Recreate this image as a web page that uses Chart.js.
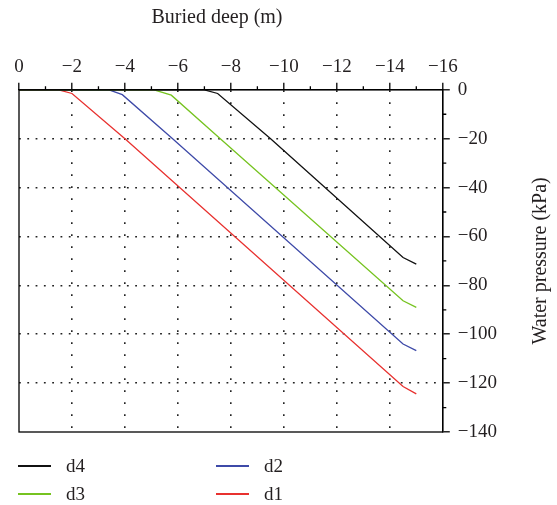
<!DOCTYPE html>
<html>
<head>
<meta charset="utf-8">
<script src="https://cdn.jsdelivr.net/npm/chart.js@4.4.1/dist/chart.umd.min.js"></script>
<style>
  body { margin: 0; background: #fff; }
  #wrap { position: relative; width: 557px; height: 505px; }
  #legend {
    position: absolute; left: 18px; top: 452px;
    display: grid; grid-template-columns: 198px 120px;
    font: 19px "Liberation Serif", serif; color: #231f20;
  }
  .item { display: flex; align-items: center; height: 28px; }
  .swatch { width: 33px; height: 0; border-top: 2px solid; margin-right: 15px; }
</style>
</head>
<body>
<div id="wrap">
  <canvas id="myChart" width="557" height="505"></canvas>
  <div id="legend"></div>
</div>
<script>
const ctx = document.getElementById('myChart').getContext('2d');

// buried depth (m, negative) and water pressure (kPa)
const depthD4 = [0, -7.0, -7.5, -9.5, -14.5, -15];
const pressD4 = [0, 0, -1.5, -20, -68.6, -71.3];
const depthD3 = [0, -5.1, -5.75, -7.6, -14.5, -15];
const pressD3 = [0, 0, -2.2, -20, -86.3, -89.0];
const depthD2 = [0, -3.4, -3.9, -5.8, -14.5, -15];
const pressD2 = [0, 0, -2.0, -20, -104.0, -106.7];
const depthD1 = [0, -1.5, -2.0, -4.0, -14.5, -15];
const pressD1 = [0, 0, -1.5, -20, -121.4, -124.4];

const seriesNames = ['d4', 'd3', 'd2', 'd1'];
const seriesColors = ['#111111', '#76c320', '#3e4aa8', '#e8312f'];
const legendOrder = ['d4', 'd2', 'd3', 'd1'];

const xMinorTicks = [-1, -3, -5, -7, -9, -11, -13, -15];
const yMinorTicks = [-10, -30, -50, -70, -90, -110, -130];

const xTitle = 'Buried deep (m)';
const yTitle = 'Water pressure (kPa)';

const pairs = (xs, ys) => xs.map((x, i) => ({x: x, y: ys[i]}));
const allSeries = [pairs(depthD4, pressD4), pairs(depthD3, pressD3), pairs(depthD2, pressD2), pairs(depthD1, pressD1)];

const fmt = v => (v < 0 ? '\u2212' + Math.abs(v) : '' + v);
const font = {family: 'Liberation Serif', size: 19};

const frame = {
    id: 'frame',
    afterDraw(chart) {
        const c = chart.ctx;
        const a = chart.chartArea;
        const sx = chart.scales.x, sy = chart.scales.y;
        c.save();
        c.strokeStyle = '#000';
        c.lineWidth = 1.3;
        c.strokeRect(a.left, a.top, a.right - a.left, a.bottom - a.top);
        c.beginPath();
        xMinorTicks.forEach(v => {
            const px = sx.getPixelForValue(v);
            c.moveTo(px, a.top);
            c.lineTo(px, a.top - 3.5);
        });
        yMinorTicks.forEach(v => {
            const py = sy.getPixelForValue(v);
            c.moveTo(a.right, py);
            c.lineTo(a.right + 3.5, py);
        });
        c.stroke();
        // axis titles
        c.fillStyle = '#231f20';
        c.font = '20px "Liberation Serif"';
        c.textAlign = 'center';
        c.textBaseline = 'alphabetic';
        c.fillText(xTitle, 217, 23);
        c.translate(546, (a.top + a.bottom) / 2);
        c.rotate(-Math.PI / 2);
        c.fillText(yTitle, 0, 0);
        c.restore();
    }
};

const data = {
    datasets: seriesNames.map((name, i) => ({
        label: name,
        data: allSeries[i],
        borderColor: seriesColors[i],
        borderWidth: 1.3,
        pointRadius: 0,
        showLine: true,
        fill: false,
    })),
};

const hideEdge = (a, b) => c => (c.tick && (c.tick.value === a || c.tick.value === b)) ? 'rgba(0,0,0,0)' : '#222';

const config = {
    type: 'scatter',
    data: data,
    options: {
        responsive: false,
        animation: false,
        layout: {padding: {top: 52, right: 52, bottom: 73, left: 19}},
        plugins: {legend: {display: false}, tooltip: {enabled: false}},
        scales: {
            x: {
                type: 'linear', position: 'top', reverse: true, min: -16, max: 0,
                ticks: {stepSize: 2, padding: 4, color: '#231f20', font: font, maxRotation: 0, callback: fmt},
                grid: {color: hideEdge(0, -16), lineWidth: 1.6, tickLength: 7, tickColor: '#000', tickWidth: 1.3},
                border: {display: true, color: '#000', width: 1.3, dash: [1.8, 10.2]},
            },
            y: {
                type: 'linear', position: 'right', min: -140, max: 0,
                ticks: {stepSize: 20, padding: 8, color: '#231f20', font: font, callback: fmt},
                grid: {color: hideEdge(0, -140), lineWidth: 1.6, tickLength: 7, tickColor: '#000', tickWidth: 1.3},
                border: {display: true, color: '#000', width: 1.3, dash: [1.8, 6.5]},
            },
        },
    },
    plugins: [frame],
};

const myChart = new Chart(ctx, config);

// legend, two columns like the original
const legend = document.getElementById('legend');
legendOrder.forEach(name => {
    const i = seriesNames.indexOf(name);
    const item = document.createElement('div');
    item.className = 'item';
    item.innerHTML = '<span class="swatch" style="border-color:' + seriesColors[i] + '"></span><span>' + name + '</span>';
    legend.appendChild(item);
});
</script>
</body>
</html>
